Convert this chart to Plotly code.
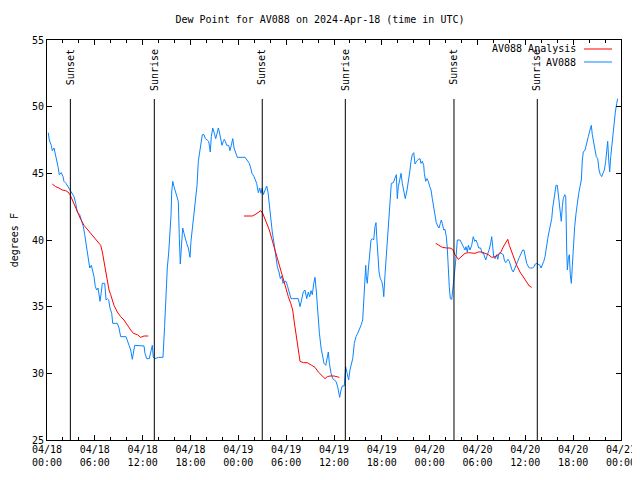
import pandas as pd
import plotly.graph_objects as go

# ---------------- data (hours after 2024-04-18 00:00 UTC, degrees F) ----------------
blue_hours = [0.16,0.29,0.54,0.66,0.88,1.00,1.17,1.38,1.54,1.79,2.01,2.13,2.38,2.63,2.88,3.17,3.39,3.60,3.80,4.10,
              4.31,4.56,4.73,4.98,5.18,5.36,5.56,5.73,5.90,6.06,6.23,6.40,6.52,6.65,6.81,6.94,7.24,7.41,7.57,7.74,
              7.90,8.12,8.24,8.82,9.03,9.24,9.91,10.07,10.29,10.50,10.70,11.00,11.54,11.96,12.17,12.29,12.51,12.83,13.01,13.21,
              13.33,13.5,14.0,14.3,14.55,14.75,14.93,15.09,15.27,15.43,15.56,15.64,15.77,15.93,16.10,16.27,16.47,16.60,16.72,16.85,
              17.02,17.19,17.35,17.52,17.73,17.94,18.06,18.23,18.44,18.66,18.82,18.98,19.16,19.32,19.48,19.69,19.86,20.11,20.28,20.41,
              20.48,20.61,20.79,20.99,21.16,21.29,21.49,21.62,21.79,21.95,22.12,22.24,22.37,22.54,22.79,22.95,23.12,23.30,23.46,23.67,
              23.87,24.84,25.13,25.38,25.55,25.71,25.97,26.30,26.51,26.68,26.84,27.00,27.13,27.34,27.56,27.72,27.85,28.06,28.26,28.44,
              28.60,28.73,28.89,29.10,29.27,29.44,29.60,29.77,29.98,30.19,30.36,30.61,30.77,31.52,31.74,31.95,32.15,32.36,32.58,32.78,
              32.95,33.12,33.28,33.46,33.62,33.79,33.97,34.17,34.38,34.59,34.75,34.97,35.13,35.29,35.42,35.63,35.84,36.04,36.25,36.46,
              36.63,36.71,36.88,37.04,37.29,37.46,37.63,37.84,38.00,38.35,38.55,38.76,38.97,39.17,39.39,39.60,39.73,39.85,39.98,40.05,
              40.18,40.30,40.48,40.64,40.81,40.98,41.14,41.27,41.36,41.48,41.65,41.81,41.99,42.15,42.24,42.40,42.56,42.74,42.90,43.06,
              43.19,43.44,43.65,43.82,43.94,44.07,44.24,44.41,44.57,44.74,44.94,45.16,45.32,45.50,45.66,45.82,46.00,46.16,46.37,46.57,
              46.79,46.91,47.08,47.25,47.33,47.50,47.67,47.83,48.01,48.17,48.33,48.51,48.67,48.83,49.01,49.17,49.34,49.46,49.59,49.76,
              49.92,50.09,50.21,50.34,50.46,50.59,50.77,50.89,51.06,51.18,51.31,51.47,51.81,52.02,52.22,52.43,52.55,52.72,52.85,53.06,
              53.27,53.47,53.65,53.81,53.98,54.15,54.40,54.57,54.73,54.91,55.03,55.16,55.32,55.48,55.66,55.78,55.91,56.03,56.20,56.41,
              56.54,56.70,56.82,57.04,57.24,57.36,57.54,57.66,57.83,57.99,58.17,58.33,58.49,58.67,58.83,59.04,59.25,59.46,59.67,59.83,
              60.00,60.17,60.34,60.50,60.68,60.93,61.09,61.25,61.43,61.63,61.84,61.97,62.13,62.31,62.47,62.63,62.81,62.97,63.13,63.31,
              63.43,63.60,63.72,63.85,64.01,64.14,64.26,64.39,64.51,64.64,64.76,64.94,65.07,65.19,65.27,65.39,65.52,65.64,65.77,65.89,
              66.02,66.19,66.36,66.52,66.70,66.86,67.02,67.15,67.27,67.49,67.70,67.90,68.11,68.28,68.40,68.58,68.74,68.90,69.08,69.24,
              69.41,69.58,69.74,69.91,70.08,70.21,70.33,70.46,70.58,70.71,70.83,70.96,71.12,71.29,71.46,71.59]
blue_dewpt = [48.05,47.5,47.1,46.7,46.9,46.6,46.1,45.5,44.9,45.05,44.75,44.4,44.25,44.0,43.75,43.5,43.25,42.75,42.1,41.9,
              41.5,41.0,40.4,39.5,38.5,37.9,38.1,37.75,37.25,36.5,36.25,36.4,36.0,35.4,36.1,36.75,36.75,35.5,35.6,35.5,
              34.9,34.5,33.75,33.75,33.4,32.75,32.75,32.4,32.1,31.75,31.05,32.1,32.1,32.1,32.05,31.5,31.1,31.1,31.5,32.1,
              31.2,31.1,31.2,31.2,31.2,33.5,36.6,37.9,39.1,40.6,41.9,43.6,44.4,44.0,43.6,43.25,42.9,40.1,38.2,39.4,
              40.9,40.5,40.1,39.75,39.4,38.7,39.9,40.75,42.1,43.1,44.1,45.9,46.6,47.2,47.9,47.9,47.6,47.5,47.4,46.9,
              46.6,47.75,48.4,48.0,47.6,47.9,48.4,48.1,47.5,47.1,47.4,47.55,47.4,47.1,47.1,46.7,47.1,47.6,46.9,46.5,
              46.2,46.2,46.0,45.75,45.4,45.0,44.75,44.25,43.55,43.9,43.5,43.9,43.4,43.75,44.05,43.6,42.75,41.6,40.6,39.9,
              39.25,38.5,38.0,37.6,37.1,37.3,36.75,36.9,36.9,36.5,36.05,35.6,35.6,35.6,35.0,35.5,36.1,36.25,35.6,36.1,
              35.75,36.2,35.9,36.75,37.2,36.1,34.5,33.0,31.9,31.25,30.75,30.6,31.1,31.6,30.75,30.0,29.6,29.5,29.4,29.0,
              28.6,28.2,28.75,29.05,29.05,30.5,30.05,29.5,30.25,31.1,32.25,32.75,33.0,33.25,33.6,34.0,35.25,37.25,38.1,37.25,
              36.75,37.75,38.9,40.0,40.1,40.0,41.0,41.3,40.25,38.75,37.6,37.1,36.9,36.4,35.75,37.4,38.75,39.75,41.25,42.9,
              44.25,44.3,44.6,44.9,43.1,44.0,44.5,45.0,44.25,43.6,43.1,43.75,44.25,45.1,45.9,46.4,46.55,45.7,45.9,46.05,
              46.1,45.75,45.9,45.6,45.0,44.4,44.6,44.4,44.0,43.75,43.1,42.5,41.75,41.3,41.05,40.9,41.25,41.5,41.25,40.75,
              40.8,40.25,39.4,37.25,36.5,35.6,35.55,36.25,37.0,37.9,38.75,40.0,40.0,39.75,39.5,39.25,39.5,39.1,39.6,39.25,
              39.6,40.25,39.9,40.0,39.75,39.4,39.4,39.0,39.05,38.6,38.5,38.75,39.0,39.3,39.8,40.25,39.5,38.75,38.6,38.9,
              38.55,39.0,39.05,39.0,38.9,38.5,38.3,38.4,38.55,38.4,38.0,37.75,37.6,37.9,38.05,38.4,38.7,39.0,39.25,39.25,
              38.75,38.25,38.05,37.9,37.9,37.9,38.0,38.2,38.25,38.2,38.1,37.9,38.1,38.4,38.75,39.5,40.1,40.6,41.1,41.6,
              42.4,43.0,43.6,44.1,44.1,43.25,42.6,41.75,41.4,42.5,43.1,43.4,43.25,39.25,37.75,38.6,38.9,37.4,36.75,38.0,
              39.9,41.0,42.0,42.9,43.5,44.0,44.5,46.0,46.6,46.75,47.4,47.75,48.25,48.6,47.9,47.25,46.6,46.25,46.1,45.25,
              44.9,44.75,45.0,45.25,45.9,46.9,47.4,46.0,45.1,46.25,47.0,47.75,48.9,49.6,50.25,50.6]

analysis1_hours = [0.66,1.09,1.51,1.92,2.35,2.63,2.89,3.17,3.39,3.60,3.80,4.23,4.64,5.06,5.48,5.90,6.31,6.74,6.94,7.15,
                   7.36,7.56,7.78,7.99,8.19,8.40,8.82,9.24,9.66,10.07,10.50,10.83,11.33,11.75,12.17,12.71]
analysis1_dewpt = [44.2,44.0,43.9,43.75,43.7,43.6,43.4,43.0,42.75,42.4,42.05,41.55,41.1,40.8,40.5,40.2,39.9,39.6,39.1,38.4,
                   37.5,36.75,36.25,35.9,35.4,35.1,34.6,34.25,34.0,33.6,33.25,33.0,32.9,32.7,32.8,32.8]
analysis2_hours = [24.71,25.75,26.09,26.38,26.81,27.06,27.35,27.63,27.89,28.19,28.47,28.73,29.01,29.32,29.64,29.98,30.27,30.57,30.82,30.98,
                   31.23,31.48,31.74,32.15,32.65,33.20,33.62,34.03,34.46,34.87,35.16,35.50,36.00,36.34,36.67]
analysis2_dewpt = [41.8,41.8,41.9,42.05,42.2,42.0,41.6,41.25,40.75,40.1,39.5,38.9,38.25,37.6,36.9,36.25,35.75,35.25,34.75,34.0,
                   33.0,32.0,30.9,30.8,30.8,30.6,30.45,30.1,29.8,29.6,29.75,29.8,29.8,29.75,29.7]
analysis3_hours = [48.76,49.17,49.59,50.14,50.55,50.89,51.18,51.59,52.02,52.43,52.85,53.27,53.69,54.10,54.53,54.94,55.36,55.78,56.20,56.61,
                   56.91,57.16,57.36,57.58,57.79,57.99,58.29,58.62,58.92,59.33,59.75,60.17,60.50,60.80]
analysis3_dewpt = [39.75,39.6,39.45,39.4,39.4,39.3,38.9,38.55,38.75,39.0,39.05,39.0,39.0,39.1,39.1,39.0,38.9,38.7,38.75,38.9,
                   39.05,39.4,39.6,39.9,40.05,39.6,39.1,38.55,38.1,37.6,37.25,36.9,36.55,36.45]

sun_labels = ["Sunset", "Sunrise", "Sunset", "Sunrise", "Sunset", "Sunrise"]
sun_hours = [2.93, 13.46, 27.0, 37.42, 51.05, 61.5]

series_names = ["AV088 Analysis", "AV088"]
title_text = "Dew Point for AV088 on 2024-Apr-18 (time in UTC)"
y_title = "degrees F"

# ---------------- styling ----------------
BASE = pd.Timestamp("2024-04-18 00:00")
FONT = "DejaVu Sans Mono"
RED = "#ff0000"
BLUE = "#0a84ff"
# the page body has an 8 px margin, so the figure is 8 px smaller and margins shifted
W, H = 632, 472


def to_time(hours):
    return [BASE + pd.Timedelta(hours=h) for h in hours]


fig = go.Figure()
fig.add_trace(go.Scatter(x=to_time(blue_hours), y=blue_dewpt, mode="lines",
                         line=dict(color=BLUE, width=1), name=series_names[1]))
for hrs, vals in [(analysis1_hours, analysis1_dewpt), (analysis2_hours, analysis2_dewpt),
                  (analysis3_hours, analysis3_dewpt)]:
    fig.add_trace(go.Scatter(x=to_time(hrs), y=vals, mode="lines",
                             line=dict(color=RED, width=1), name=series_names[0]))

shapes = []
annotations = []
for lab, h in zip(sun_labels, sun_hours):
    t = BASE + pd.Timedelta(hours=h)
    shapes.append(dict(type="line", xref="x", yref="paper", x0=t, x1=t, y0=0, y1=0.8525,
                       line=dict(color="black", width=1)))
    annotations.append(dict(text=lab, xref="x", yref="paper", x=t, y=0.983, xanchor="center",
                            yanchor="top", textangle=-90, showarrow=False,
                            font=dict(family=FONT, size=10, color="black")))

# manual legend (text left of the line sample, gnuplot style)
leg_y = [0.9775, 0.945]
leg_col = [RED, BLUE]
for name, yy, col in zip(series_names, leg_y, leg_col):
    annotations.append(dict(text=name, xref="paper", yref="paper", x=0.925, y=yy, xanchor="right",
                            yanchor="middle", showarrow=False,
                            font=dict(family=FONT, size=10, color="black")))
    shapes.append(dict(type="line", xref="paper", yref="paper", x0=0.9355, x1=0.9843, y0=yy, y1=yy,
                       line=dict(color=col, width=1)))

annotations.append(dict(text=y_title, xref="paper", yref="paper", x=-0.057, y=0.5, xanchor="center",
                        yanchor="middle", textangle=-90, showarrow=False,
                        font=dict(family=FONT, size=10, color="black")))

fig.update_layout(
    width=W, height=H,
    margin=dict(l=39, r=19, t=32, b=40, pad=0, autoexpand=False),
    paper_bgcolor="white", plot_bgcolor="white",
    showlegend=False,
    font=dict(family=FONT, size=10, color="black"),
    title=dict(text=title_text, x=312 / W, xref="container", xanchor="center",
               y=1 - 11 / H, yref="container", yanchor="middle",
               font=dict(family=FONT, size=10, color="black")),
    shapes=shapes, annotations=annotations,
)
fig.update_xaxes(
    type="date", automargin=False,
    range=[BASE, BASE + pd.Timedelta(hours=72)],
    tick0=BASE, dtick=6 * 3600 * 1000,
    tickformat="%m/%d<br>%H:%M",
    ticks="inside", ticklen=5, tickcolor="black",
    minor=dict(dtick=2 * 3600 * 1000, ticks="inside", ticklen=3, tickcolor="black", showgrid=False),
    showline=True, linecolor="black", linewidth=1, mirror="allticks",
    showgrid=False, zeroline=False,
    tickfont=dict(family=FONT, size=10, color="black"),
)
fig.update_yaxes(
    range=[25, 55], dtick=5, tick0=25, automargin=False,
    ticks="inside", ticklen=5, tickcolor="black",
    showline=True, linecolor="black", linewidth=1, mirror="allticks",
    showgrid=False, zeroline=False,
    tickfont=dict(family=FONT, size=10, color="black"),
)

fig.write_html("out.html")
